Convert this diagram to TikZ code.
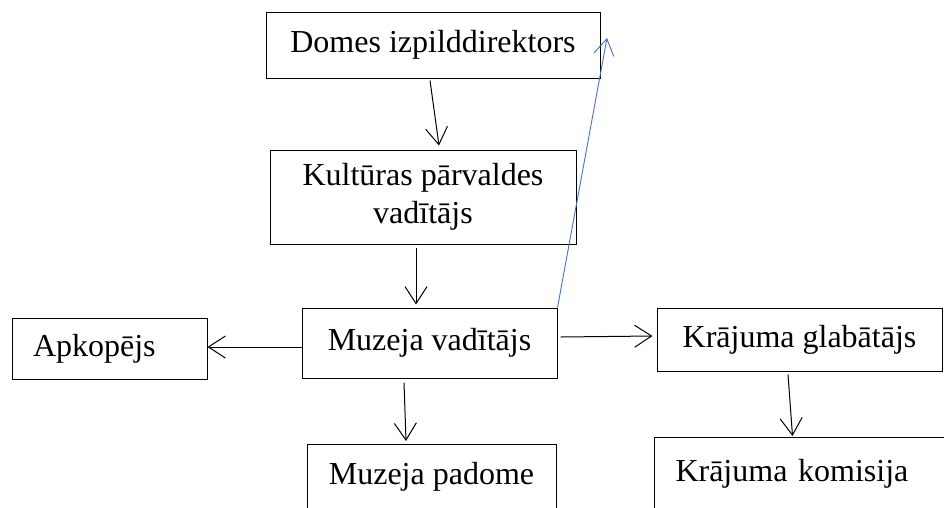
\documentclass[tikz,border=0pt]{standalone}
\usepackage{fontspec}
\setmainfont{Liberation Serif}
\usetikzlibrary{arrows.meta}
\definecolor{linkblue}{RGB}{68,114,196}
\begin{document}
\begin{tikzpicture}[x=1pt,y=-1pt,
  box/.style={draw, line width=1pt, font=\fontsize{32}{38}\selectfont, inner sep=0pt, align=center},
  arr/.style={line width=1pt, -{Straight Barb[length=17pt,width=22pt,line width=1pt]}},
  bluearr/.style={linkblue, line width=0.9pt, -{Straight Barb[length=16pt,width=20pt,line width=0.9pt]}},
]
\useasboundingbox (0,0) rectangle (944,507);
\clip (0,0) rectangle (944,507);
\node[box, minimum width=334pt, minimum height=66pt] (dom) at (433,45) {Domes izpilddirektors};
\node[box, minimum width=306pt, minimum height=94pt] (kul) at (423,197) {Kultūras pārvaldes\\vadītājs};
\node[box, minimum width=255pt, minimum height=70pt] (mv) at (429.5,343) {Muzeja vadītājs};
\node[box, minimum height=61pt, text width=153pt, inner xsep=21pt, align=left] (apk) at (109.5,348.5) {Apkopējs};
\node[box, minimum width=285pt, minimum height=63pt] (kg) at (799.5,339.5) {Krājuma glabātājs};
\node[box, anchor=north, minimum width=249pt, text height=25pt, text depth=70pt, inner ysep=15pt] (mp) at (431.5,444) {Muzeja padome};
\node[box, anchor=north west, text width=250pt, inner xsep=21pt, align=left, text height=25pt, text depth=70pt, inner ysep=19pt] (kk) at (654,437) {Krājuma komisija};
\coordinate (bt) at (607,38);
\draw[arr] ([xshift=-3pt,yshift=-2pt]dom.south) -- ([xshift=16pt,yshift=4pt]kul.north);
\draw[arr] ([xshift=-7pt,yshift=-3pt]kul.south) -- ([xshift=-13.5pt,yshift=3pt]mv.north);
\draw[arr] ([yshift=-4pt]mv.west) -- ([yshift=1.5pt]apk.east);
\draw[arr] ([xshift=3pt,yshift=6pt]mv.east) -- ([xshift=-4pt,yshift=3.5pt]kg.west);
\draw[arr] ([xshift=-25.5pt,yshift=-4pt]mv.south) -- ([xshift=-25.5pt,yshift=3pt]mp.north);
\draw[arr] ([xshift=-11.5pt,yshift=-3pt]kg.south) -- ([xshift=-8pt,yshift=1pt]kk.north);
\draw[bluearr] (mv.north east) -- (bt);
\end{tikzpicture}
\end{document}
